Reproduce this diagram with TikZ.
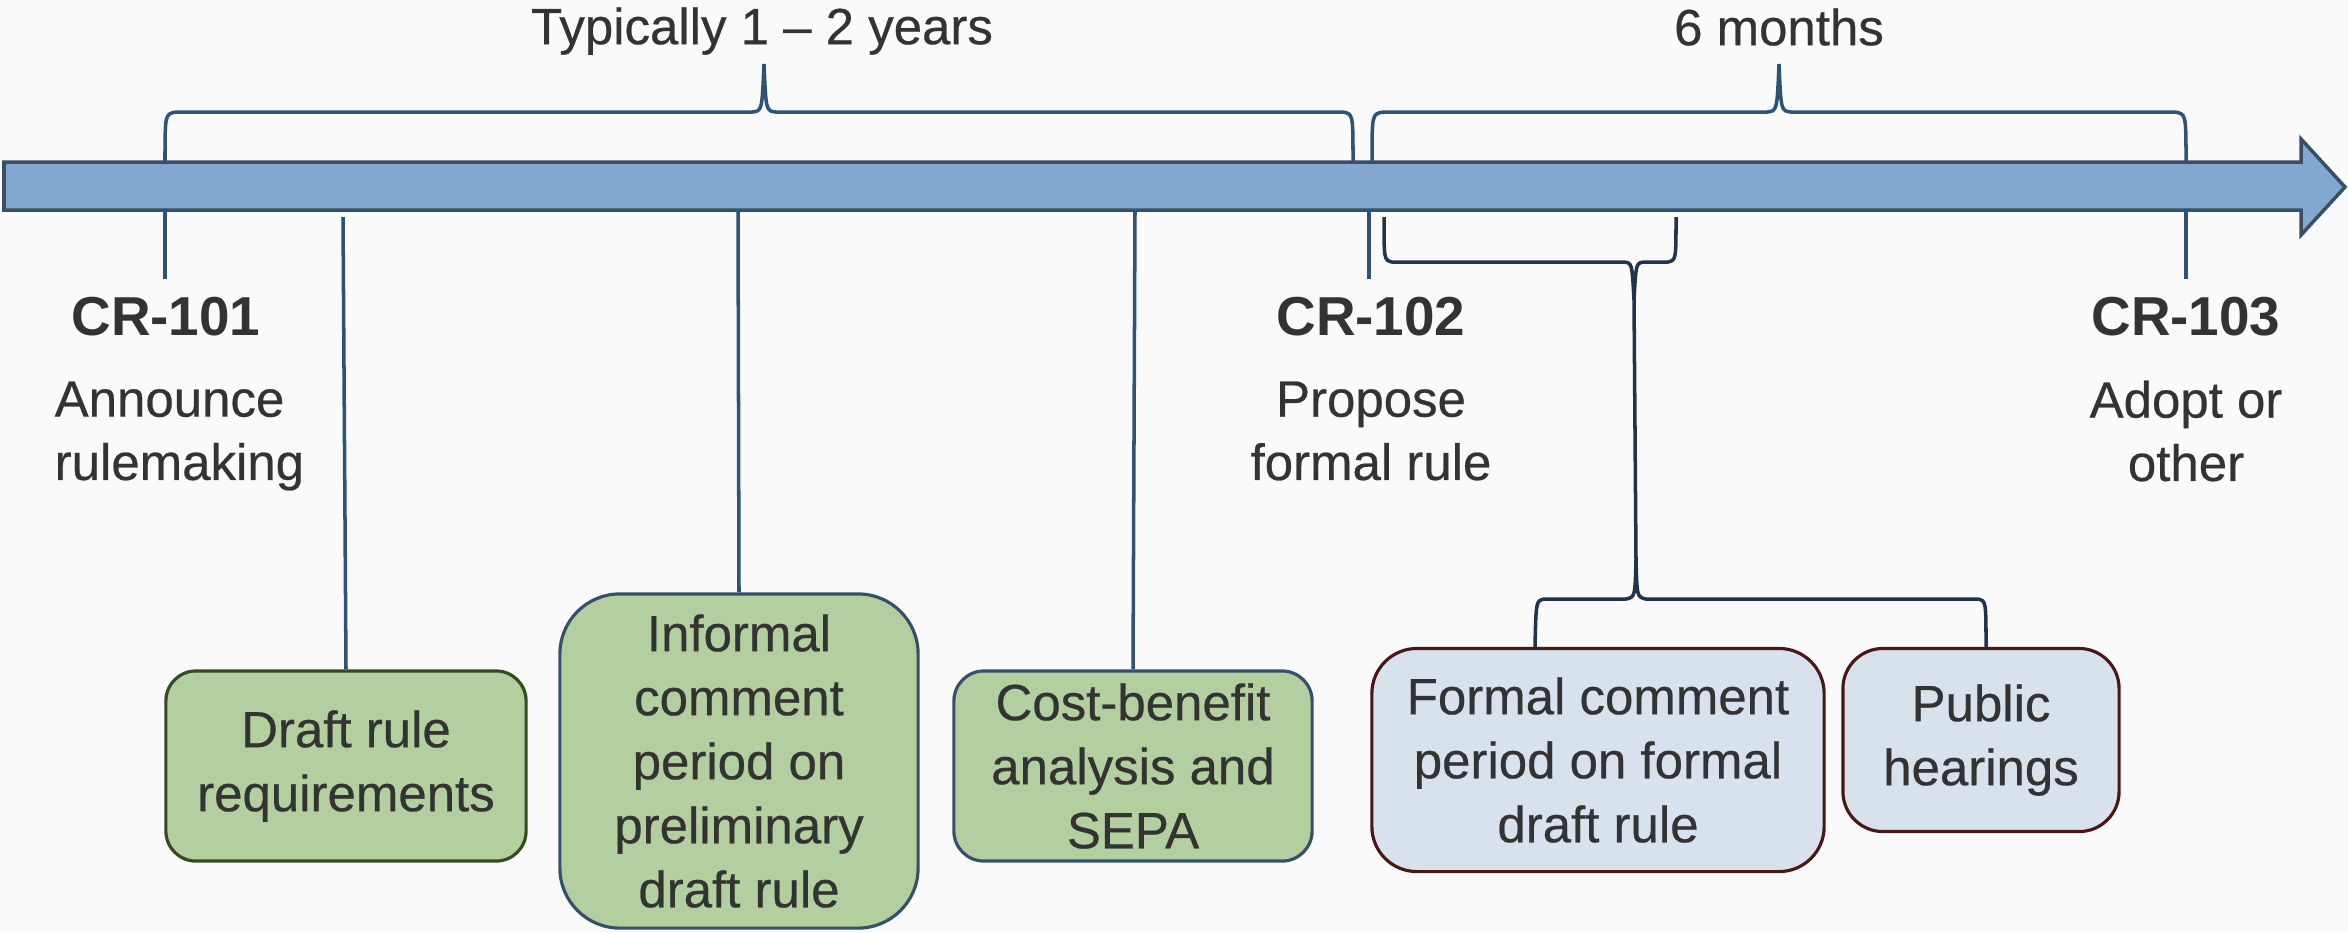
\documentclass[tikz,border=0pt]{standalone}
\usepackage{fontspec}
\setmainfont{Liberation Sans}[FakeBold=0.45]
\newfontfamily\milefont{Liberation Sans Bold}
\usetikzlibrary{positioning}

\definecolor{shaftblue}{HTML}{82A8CF}
\definecolor{shaftline}{HTML}{3A4F66}
\definecolor{bracecol}{HTML}{2E5378}
\definecolor{bracedark}{HTML}{1F344D}
\definecolor{textgray}{HTML}{333333}
\definecolor{greenfill}{HTML}{B3CFA0}
\definecolor{greenline}{HTML}{354A20}
\definecolor{slateline}{HTML}{34506A}
\definecolor{bluefill}{HTML}{D8E2ED}
\definecolor{maroonline}{HTML}{4A1616}
\definecolor{bgcol}{HTML}{FAFAFA}

\tikzset{
  brace/.style={draw=bracecol, line width=1pt},
  link/.style={draw=bracecol, line width=1pt},
  milestone/.style={font=\fontsize{15.6}{18}\milefont, text=textgray, inner sep=0pt},
  phase/.style={font=\fontsize{14.5}{18}\selectfont, text=textgray, align=center, inner sep=0pt},
  stepgreen/.style={draw=greenline, fill=greenfill, line width=0.9pt, rounded corners=0.3cm,
    font=\fontsize{14.5}{18.2}\selectfont, text=textgray, align=center, inner sep=0pt},
  stepblue/.style={draw=maroonline, fill=bluefill, line width=0.9pt, rounded corners=0.45cm,
    font=\fontsize{14.5}{18.2}\selectfont, text=textgray, align=center, inner sep=0pt}
}

\begin{document}
\begin{tikzpicture}[x=0.01cm, y=-0.01cm]
\useasboundingbox (0,0) rectangle (2348,932);
\fill[bgcol] (0,0) rectangle (2348,932);

% timeline arrow
\draw[shaftline, fill=shaftblue, line width=1pt] (4,162) -- (2301,162) -- (2301,139) -- (2345,187)
  -- (2301,235) -- (2301,210) -- (4,210) -- cycle;

% durations
\draw[brace] (165,162) .. controls (165,114) .. (176,112) -- (752,112) .. controls (762,111) .. (764,64)
  .. controls (766,111) .. (776,112) -- (1343,112) .. controls (1353,114) .. (1353,162);
\draw[brace] (1372,162) .. controls (1372,114) .. (1383,112) -- (1767,112) .. controls (1777,111) .. (1779,64)
  .. controls (1781,111) .. (1791,112) -- (2175,112) .. controls (2186,114) .. (2186,162);
\node[phase] (dur1) at (762,31) {Typically 1 -- 2 years};
\node[phase] (dur2) at (1779,27) {6 months};

% milestones
\node[milestone] (cr101) at (166,317) {CR-101};
\node[milestone] (cr102) at (1371,317) {CR-102};
\node[milestone] (cr103) at (2186,317) {CR-103};
\node[phase, align=left, anchor=west] (ann) at (54,436) {Announce\\rulemaking};
\node[phase] (prop) at (1371,431) {Propose\\formal rule};
\node[phase] (adopt) at (2186,431) {Adopt or\\other};

\coordinate (t1) at (165,210);
\coordinate (t2) at (1369,210);
\coordinate (t3) at (2186,210);
\draw[link] (t1) -- ([yshift=5pt]cr101.north -| t1);
\draw[link] (t2) -- ([yshift=5pt]cr102.north -| t2);
\draw[link] (t3) -- ([yshift=5pt]cr103.north -| t3);

% steps
\node[stepgreen, minimum width=3.6cm, minimum height=1.9cm] (draft) at (346,766) {Draft rule\\requirements};
\node[stepgreen, draw=slateline, rounded corners=0.6cm, minimum width=3.58cm, minimum height=3.34cm] (informal) at (739,761)
  {Informal\\comment\\period on\\preliminary\\draft rule};
\node[stepgreen, draw=slateline, minimum width=3.58cm, minimum height=1.9cm] (cost) at (1133,766)
  {Cost-benefit\\analysis and\\SEPA};
\node[stepblue, minimum width=4.52cm, minimum height=2.23cm] (formal) at (1598,760)
  {Formal comment\\period on formal\\draft rule};
\node[stepblue, rounded corners=0.4cm, minimum width=2.76cm, minimum height=1.83cm] (hear) at (1981,740)
  {Public\\hearings};

\coordinate (s1) at (343,217);
\coordinate (s2) at (738,210);
\coordinate (s3) at (1135,210);
\draw[link] (s1) -- (draft.north);
\draw[link] (s2) -- (informal.north);
\draw[link] (s3) -- (cost.north);

% formal period brace
\draw[brace, draw=bracedark] (1384,217) .. controls (1384,260) .. (1392,262) -- (1624,262)
  .. controls (1632,263) .. (1634,300) -- (1636,560) .. controls (1637,597) .. (1646,599)
  -- (1978,599) .. controls (1986,601) .. (hear.north -| 1986,0);
\draw[brace, draw=bracedark] (1634,300) .. controls (1636,263) .. (1644,262) -- (1668,262)
  .. controls (1676,260) .. (1676,217);
\draw[brace, draw=bracedark] (1636,560) .. controls (1635,597) .. (1626,599) -- (1544,599)
  .. controls (1536,601) .. (formal.north -| 1535,0);
\end{tikzpicture}
\end{document}
